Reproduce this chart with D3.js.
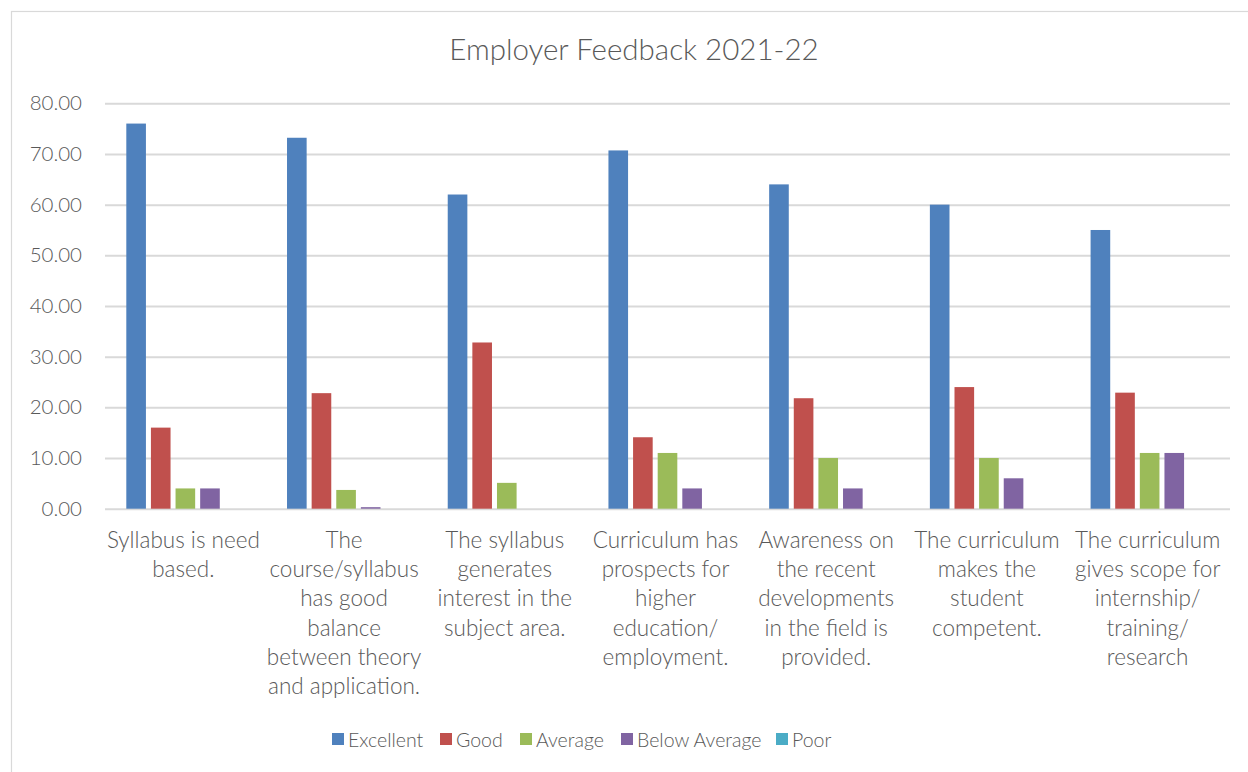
<!DOCTYPE html>
<html>
<head>
<meta charset="utf-8">
<script src="https://cdn.jsdelivr.net/npm/d3@7"></script>
<style>
  html, body { margin: 0; padding: 0; background: #fff; }
  svg { display: block; }
  text { font-family: Lato, "Open Sans", sans-serif; font-weight: 300; fill: #595959; }
</style>
</head>
<body>
<svg id="chart" width="1248" height="772"></svg>
<script>
// Survey statements (each entry is a list of wrapped label lines)
const categoryLines = [
  ["Syllabus is need", "based."],
  ["The", "course/syllabus", "has good", "balance", "between theory", "and application."],
  ["The syllabus", "generates", "interest in the", "subject area."],
  ["Curriculum has", "prospects for", "higher", "education/", "employment."],
  ["Awareness on", "the recent", "developments", "in the field is", "provided."],
  ["The curriculum", "makes the", "student", "competent."],
  ["The curriculum", "gives scope for", "internship/", "training/", "research"]
];
const categories = categoryLines.map(l => l.join(" "));

const seriesNames = ["Excellent", "Good", "Average", "Below Average", "Poor"];
const excellent    = [76, 73.2, 62, 70.7, 64, 60, 55];
const good         = [16, 22.8, 32.8, 14.1, 21.8, 24, 22.9];
const average      = [4, 3.7, 5.1, 11, 10, 10, 11];
const belowAverage = [4, 0.3, 0, 4, 4, 6, 11];
const poor         = [0, 0, 0, 0, 0, 0, 0];
const seriesValues = [excellent, good, average, belowAverage, poor];
const seriesColors = ["#4F81BD", "#C0504D", "#9BBB59", "#8064A2", "#4BACC6"];

const yTicks = [0, 10, 20, 30, 40, 50, 60, 70, 80];
const chartTitle = "Employer Feedback 2021-22";

const svg = d3.select("#chart");
const W = 1248, H = 772;
const plot = { left: 105, right: 1230, top: 103.3, bottom: 508.7 };

// outer frame
svg.append("rect")
  .attr("x", 11.5).attr("y", 11.5)
  .attr("width", W + 10).attr("height", H + 10)
  .attr("fill", "none").attr("stroke", "#D9D9D9").attr("stroke-width", 1.2);

svg.append("text")
  .attr("x", 634).attr("y", 60)
  .attr("text-anchor", "middle")
  .style("font-size", "29.5px")
  .text(chartTitle);

const y = d3.scaleLinear().domain([0, 80]).range([plot.bottom, plot.top]);
const x0 = d3.scaleBand().domain(categories).range([plot.left, plot.right]).paddingInner(0).paddingOuter(0);
const groupW = x0.bandwidth();
const innerW = groupW * 0.766;
const x1 = d3.scaleBand().domain(seriesNames)
  .range([(groupW - innerW) / 2, (groupW + innerW) / 2]);

// horizontal gridlines
const yAxis = d3.axisLeft(y).tickValues(yTicks)
  .tickSize(-(plot.right - plot.left)).tickPadding(23)
  .tickFormat(d3.format(".2f"));
const gy = svg.append("g").attr("transform", `translate(${plot.left},0)`).call(yAxis);
gy.select(".domain").remove();
gy.selectAll(".tick line").attr("stroke", "#D9D9D9").attr("stroke-width", 2);
gy.selectAll(".tick text")
  .style("font-size", "20.5px").style("font-family", "Lato, 'Open Sans', sans-serif")
  .style("font-weight", 300).attr("fill", "#595959");

// bars
const rows = categories.map((c, i) => ({ cat: c, vals: seriesNames.map((s, k) => ({ s, v: seriesValues[k][i], k })) }));
const gap = 5;
const groups = svg.append("g").selectAll("g").data(rows).join("g")
  .attr("transform", d => `translate(${x0(d.cat)},0)`);
groups.selectAll("rect").data(d => d.vals.filter(e => e.v > 0)).join("rect")
  .attr("x", d => x1(d.s) + gap / 2)
  .attr("width", x1.bandwidth() - gap)
  .attr("y", d => y(d.v))
  .attr("height", d => Math.max(0.8, y(0) - y(d.v)))
  .attr("fill", d => seriesColors[d.k]);

// category labels
const lineH = 29.2;
const labels = svg.append("g").selectAll("text").data(rows).join("text")
  .attr("text-anchor", "middle")
  .style("font-size", "22.5px")
  .attr("x", d => x0(d.cat) + groupW / 2 - 2)
  .attr("y", 548);
labels.selectAll("tspan").data((d, i) => categoryLines[i]).join("tspan")
  .attr("x", function () { return d3.select(this.parentNode).attr("x"); })
  .attr("dy", (d, i) => i === 0 ? 0 : lineH)
  .text(d => d);

// legend
const legendX = [332, 440, 520, 621, 776];
const legend = svg.append("g").selectAll("g").data(seriesNames).join("g")
  .attr("transform", (d, i) => `translate(${legendX[i]},733)`);
legend.append("rect").attr("width", 12).attr("height", 12)
  .attr("fill", (d, i) => seriesColors[i]);
legend.append("text").attr("x", 16).attr("y", 13.5)
  .style("font-size", "19.5px").text(d => d);
</script>
</body>
</html>
